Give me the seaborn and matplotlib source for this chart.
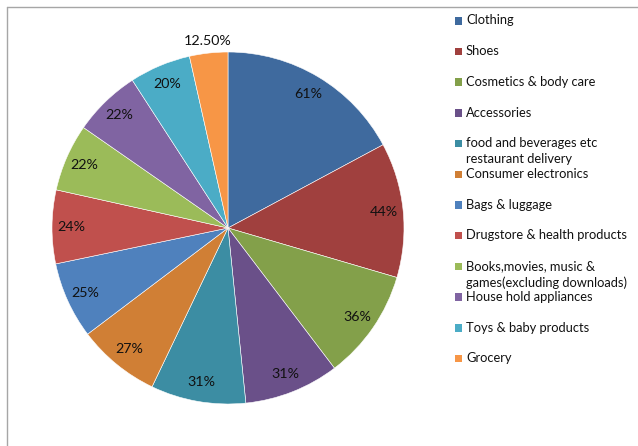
import matplotlib
matplotlib.use("Agg")
import matplotlib.pyplot as plt
from matplotlib.patches import Rectangle
from matplotlib.lines import Line2D
import numpy as np
import seaborn as sns

categories = [
    "Clothing",
    "Shoes",
    "Cosmetics & body care",
    "Accessories",
    "food and beverages etc\nrestaurant delivery",
    "Consumer electronics",
    "Bags & luggage",
    "Drugstore & health products",
    "Books,movies, music &\ngames(excluding downloads)",
    "House hold appliances",
    "Toys & baby products",
    "Grocery",
]
values = [61, 44, 36, 31, 31, 27, 25, 24, 22, 22, 20, 12.5]
value_labels = ["61%", "44%", "36%", "31%", "31%", "27%", "25%", "24%",
                "22%", "22%", "20%", "12.50%"]
colors = ["#3F6A9E", "#A0403E", "#83A04A", "#6A5089", "#3C8DA3", "#D07F35",
          "#4F81BD", "#C0504D", "#9BBB59", "#8064A2", "#4BACC6", "#F79646"]

sns.set_theme(style="white")
plt.rcParams["font.family"] = ["Lato", "DejaVu Sans"]

W, H = 638, 446
fig = plt.figure(figsize=(W / 100, H / 100), dpi=100)

# pie axes: centre (228, 228) px, radius 176 px
cx, cy, r = 228, 228, 176
ax = fig.add_axes([(cx - r) / W, (H - cy - r) / H, 2 * r / W, 2 * r / H])
wedges, _ = ax.pie(values, colors=colors, startangle=90, counterclock=False,
                   radius=1.0, wedgeprops=dict(edgecolor="white", linewidth=0.4))
ax.set_xlim(-1, 1)
ax.set_ylim(-1, 1)
ax.set_aspect("auto")
ax.axis("off")

total = sum(values)
start = 90.0
for i, (v, lab) in enumerate(zip(values, value_labels)):
    span = v / total * 360.0
    mid = np.deg2rad(start - span / 2)
    start -= span
    dist = 1.07 if i == len(values) - 1 else 0.89
    ax.text(dist * np.cos(mid), dist * np.sin(mid), lab, ha="center", va="center",
            fontsize=10.3, color="#111111")

# legend drawn in figure pixel coordinates
overlay = fig.add_axes([0, 0, 1, 1])
overlay.set_xlim(0, W)
overlay.set_ylim(H, 0)
overlay.axis("off")
y0, step = 20.5, 30.7
for i, (name, col) in enumerate(zip(categories, colors)):
    y = y0 + i * step
    overlay.add_patch(Rectangle((454.5, y - 3.5), 7.5, 7.5, facecolor=col, edgecolor="none"))
    overlay.text(466, y - 6.0, name, ha="left", va="top", fontsize=9.3,
                 color="#111111", linespacing=1.4)

# chart frame
overlay.add_line(Line2D([7, W], [7, 7], color="#A6A6A6", linewidth=1))
overlay.add_line(Line2D([7, 7], [7, H], color="#A6A6A6", linewidth=1))

fig.savefig("out.png", dpi=100, facecolor="white")
